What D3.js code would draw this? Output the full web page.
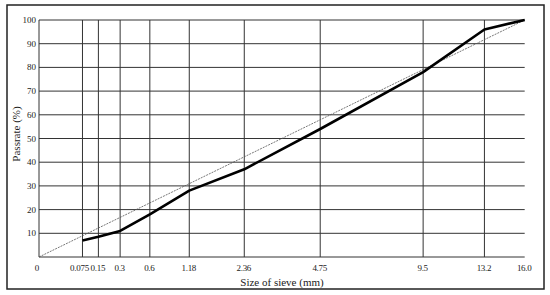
<!DOCTYPE html>
<html>
<head>
<meta charset="utf-8">
<script src="https://cdn.jsdelivr.net/npm/d3@7"></script>
<style>
  body { margin: 0; background: #fff; }
  svg text { font-family: "Liberation Serif", "DejaVu Serif", serif; fill: #222; }
</style>
</head>
<body>
<div id="chart"></div>
<script>
// sieve sizes (mm) shown on x axis
const sieves = [0.075, 0.15, 0.3, 0.6, 1.18, 2.36, 4.75, 9.5, 13.2, 16.0];
const sieveLabels = ["0.075", "0.15", "0.3", "0.6", "1.18", "2.36", "4.75", "9.5", "13.2", "16.0"];
// passing rate of the gradation curve (%)
const passrate = [7, 8.5, 11, 18, 28, 37, 54, 78, 96, 100];
// maximum density line endpoints
const maxLineSize = [0, 16.0];
const maxLinePass = [0, 100];
const yTicks = [10, 20, 30, 40, 50, 60, 70, 80, 90, 100];

const FRAME_WIDTH = 550;
const FRAME_HEIGHT = 295;
const MARGINS = {left: 39, right: 25.3, top: 20, bottom: 38};

let svg = d3.select("#chart")
  .append("svg")
    .attr("width", FRAME_WIDTH)
    .attr("height", FRAME_HEIGHT);

// outer frame
svg.append("rect")
  .attr("x", 7).attr("y", 5)
  .attr("width", 537).attr("height", 284)
  .attr("fill", "none")
  .attr("stroke", "#222")
  .attr("stroke-width", 1.5);

// power 0.45 scale, the usual gradation chart x axis
let x = d3.scalePow().exponent(0.45)
  .domain([0, 16])
  .range([MARGINS.left, FRAME_WIDTH - MARGINS.right]);

let y = d3.scaleLinear()
  .domain([0, 100])
  .range([FRAME_HEIGHT - MARGINS.bottom, MARGINS.top]);

let grid = svg.append("g")
  .attr("stroke", "#333")
  .attr("stroke-width", 1);

// horizontal grid lines
grid.selectAll(".hline")
  .data([0].concat(yTicks))
  .enter().append("line")
    .attr("x1", x(0)).attr("x2", x(16))
    .attr("y1", d => y(d)).attr("y2", d => y(d));

// vertical grid lines (left axis + sieve sizes except the last)
grid.selectAll(".vline")
  .data([0].concat(sieves.slice(0, -1)))
  .enter().append("line")
    .attr("x1", d => x(d)).attr("x2", d => x(d))
    .attr("y1", y(0)).attr("y2", y(100));

// y tick labels
svg.selectAll(".ylab")
  .data(yTicks)
  .enter().append("text")
    .attr("x", x(0) - 3)
    .attr("y", d => y(d) + 3)
    .attr("text-anchor", "end")
    .attr("font-size", 9)
    .text(d => d);

// x tick labels
svg.selectAll(".xlab")
  .data(sieves)
  .enter().append("text")
    .attr("x", (d, i) => x(d) - (i === 0 ? 3 : 0.5))
    .attr("y", 270.5)
    .attr("text-anchor", "middle")
    .attr("font-size", 9)
    .attr("letter-spacing", -0.3)
    .text((d, i) => sieveLabels[i]);

svg.append("text")
  .attr("x", x(0) - 2)
  .attr("y", 270.5)
  .attr("text-anchor", "middle")
  .attr("font-size", 9)
  .text("0");

// axis titles
svg.append("text")
  .attr("x", 282)
  .attr("y", 286)
  .attr("text-anchor", "middle")
  .attr("font-size", 11)
  .text("Size of sieve (mm)");

svg.append("text")
  .attr("transform", "translate(20,134) rotate(-90)")
  .attr("text-anchor", "middle")
  .attr("font-size", 11)
  .text("Passrate (%)");

// maximum density line
svg.append("line")
  .attr("x1", x(maxLineSize[0])).attr("y1", y(maxLinePass[0]))
  .attr("x2", x(maxLineSize[1])).attr("y2", y(maxLinePass[1]))
  .attr("stroke", "#555")
  .attr("stroke-width", 0.8)
  .attr("stroke-dasharray", "2,1");

// gradation curve
let pts = sieves.map((s, i) => [s, passrate[i]]);
svg.append("path")
  .datum(pts)
  .attr("fill", "none")
  .attr("stroke", "#000")
  .attr("stroke-width", 2.6)
  .attr("stroke-linejoin", "round")
  .attr("d", d3.line()
    .x(d => x(d[0]))
    .y(d => y(d[1])));
</script>
</body>
</html>
